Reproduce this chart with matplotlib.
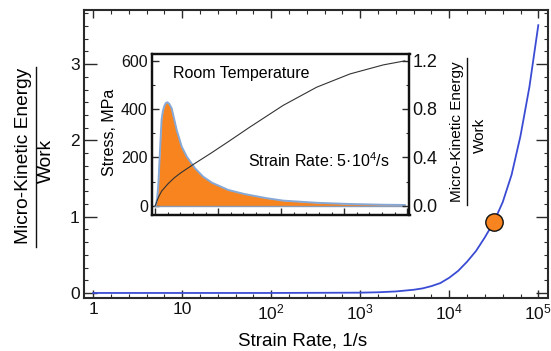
import numpy as np
import matplotlib
matplotlib.use('Agg')
import matplotlib.pyplot as plt
from matplotlib.ticker import FixedLocator, MultipleLocator, NullFormatter
from matplotlib.lines import Line2D

plt.rcParams['font.family'] = ['Liberation Sans', 'DejaVu Sans']
plt.rcParams['mathtext.fontset'] = 'custom'
plt.rcParams['mathtext.rm'] = 'Liberation Sans'
plt.rcParams['mathtext.it'] = 'Liberation Sans:italic'
plt.rcParams['mathtext.bf'] = 'Liberation Sans:bold'

# Main curve: micro-kinetic energy / work vs strain rate
strain_rate = [1, 10, 100, 1000, 1585, 2512, 3981, 5012, 6310, 7943, 1e4, 12589,
               15849, 19953, 25119, 31623, 39811, 50119, 63096, 79433, 1e5]
energy_ratio = [0, 0, 0, 0.004, 0.009, 0.02, 0.042, 0.06, 0.09, 0.13, 0.20, 0.29,
                0.41, 0.55, 0.73, 0.93, 1.19, 1.55, 2.06, 2.70, 3.51]
marker_rate = 3.2e4
marker_ratio = 0.93

# Inset: stress-strain curve at 5e4/s
inset_x = [0, 0.01, 0.03, 0.05, 0.075, 0.10, 0.12, 0.14, 0.165, 0.19, 0.22, 0.26,
           0.30, 0.34, 0.42, 0.50, 0.63, 0.76, 0.90, 1.16, 1.42, 1.77, 2.03,
           2.56, 3.09, 3.62, 3.96]
stress = [0, 3, 30, 93, 230, 355, 390, 410, 424, 428, 422, 403,
          358, 313, 244, 203, 155, 120, 95, 65, 48, 31, 21,
          12, 7, 4, 3]
# Inset: micro-kinetic energy / work (right axis)
inset_x2 = [0, 0.05, 0.10, 0.20, 0.30, 0.40, 0.60, 0.90, 1.16, 1.50, 2.03,
            2.56, 3.09, 3.62, 3.96]
inset_ratio = [0, 0.07, 0.12, 0.18, 0.23, 0.27, 0.34, 0.44, 0.53, 0.65, 0.83,
               0.98, 1.09, 1.165, 1.198]

x_ticks = [1, 10, 100, 1000, 1e4, 1e5]
x_tick_labels = ['1', '10', r'$10^2$', r'$10^3$', r'$10^4$', r'$10^5$']

BLUE = '#3b4cd4'
ORANGE = '#f7841f'
EDGE_BLUE = '#86a8d6'
SPINE = '#2a2a2a'

W, H = 551, 351
fig = plt.figure(figsize=(W / 100, H / 100), dpi=100)

# ---- main axes ----
ax = fig.add_axes([84 / W, 1 - 298 / H, (548 - 84) / W, (298 - 10) / H])
ax.plot(strain_rate, energy_ratio, color=BLUE, lw=1.3, zorder=2)
ax.plot([marker_rate], [marker_ratio], 'o', ms=12.5, mfc=ORANGE, mec='#111111', mew=1.0, zorder=3)
ax.set_xscale('log')
ax.set_xlim(0.787, 1.285e5)
ax.set_ylim(-0.066, 3.709)

ax.xaxis.set_major_locator(FixedLocator(x_ticks))
ax.set_xticklabels(x_tick_labels)
minor_pos = [10 ** (i / 5) for i in range(-1, 27) if i % 5 != 0]
ax.xaxis.set_minor_locator(FixedLocator(minor_pos))
ax.xaxis.set_minor_formatter(NullFormatter())
ax.yaxis.set_major_locator(FixedLocator([0, 1, 2, 3]))
ax.yaxis.set_minor_locator(MultipleLocator(1 / 6))

ax.tick_params(which='both', direction='in', top=True, right=True, colors=SPINE,
               labelcolor='#111111', labelsize=12.5)
ax.tick_params(which='major', length=6, width=1.0, pad=3)
ax.tick_params(which='minor', length=3, width=0.8)
ax.tick_params(axis='y', which='major', length=9)
for sp in ax.spines.values():
    sp.set_color(SPINE)
    sp.set_linewidth(1.5)

fig.text(303 / W, 1 - 346 / H, 'Strain Rate, 1/s', ha='center', va='baseline', fontsize=13.5)

# fraction ylabel for main axes
fig.text(24 / W, 1 - 156 / H, 'Micro-Kinetic Energy', rotation=90, ha='center', va='center', fontsize=13.8)
fig.add_artist(Line2D([36 / W, 36 / W], [1 - 67 / H, 1 - 247 / H], color='#111111', lw=1.0))
fig.text(46.5 / W, 1 - 161 / H, 'Work', rotation=90, ha='center', va='center', fontsize=13.8)

# ---- inset ----
axi = fig.add_axes([152 / W, 1 - 215 / H, (409.5 - 152) / W, (215 - 54) / H])
axi.fill_between(inset_x, 0, stress, color=ORANGE, lw=0, zorder=1)
axi.plot(inset_x, stress, color=EDGE_BLUE, lw=1.4, zorder=2)
axi.plot([0, 3.96], [0, 0], color='#8a9bb3', lw=1.0, zorder=2)
axi.set_xlim(-0.052, 4.035)
axi.set_ylim(-38.5, 627.6)
axi.xaxis.set_major_locator(MultipleLocator(1))
axi.xaxis.set_minor_locator(MultipleLocator(0.2))
axi.xaxis.set_major_formatter(NullFormatter())
axi.yaxis.set_major_locator(FixedLocator([0, 200, 400, 600]))
axi.yaxis.set_minor_locator(MultipleLocator(100))
axi.tick_params(which='both', direction='in', colors=SPINE, labelcolor='#111111', labelsize=11.5)
axi.tick_params(which='major', length=5, width=1.0, pad=3)
axi.tick_params(which='minor', length=2.5, width=0.8)
for sp in axi.spines.values():
    sp.set_color('#111111')
    sp.set_linewidth(1.6)

axr = axi.twinx()
axr.plot(inset_x2, inset_ratio, color='#333333', lw=0.8, zorder=3)
axr.set_ylim(-0.077, 1.255)
axr.yaxis.set_major_locator(FixedLocator([0.0, 0.4, 0.8, 1.2]))
axr.yaxis.set_minor_locator(MultipleLocator(0.2))
axr.set_yticklabels(['0.0', '0.4', '0.8', '1.2'])
axr.tick_params(which='both', direction='in', colors=SPINE, labelcolor='#111111', labelsize=13)
axr.tick_params(which='major', length=5, width=1.0, pad=2)
axr.tick_params(which='minor', length=2.5, width=0.8)
for sp in axr.spines.values():
    sp.set_color('#111111')
    sp.set_linewidth(1.6)

axi.text(0.28, 545, 'Room Temperature', ha='left', va='center', fontsize=11.5)
axi.text(1.47, 185, 'Strain Rate: 5·10$^4$/s', ha='left', va='center', fontsize=11.5)

fig.text(110 / W, 1 - 132 / H, 'Stress, MPa', rotation=90, ha='center', va='center', fontsize=11.5)

# fraction label for inset right axis
fig.text(457 / W, 1 - 131.5 / H, 'Micro-Kinetic Energy', rotation=90, ha='center', va='center', fontsize=11)
fig.add_artist(Line2D([467 / W, 467 / W], [1 - 58 / H, 1 - 205 / H], color='#111111', lw=1.0))
fig.text(480 / W, 1 - 135 / H, 'Work', rotation=90, ha='center', va='center', fontsize=11)

fig.savefig('out.png', dpi=100)
